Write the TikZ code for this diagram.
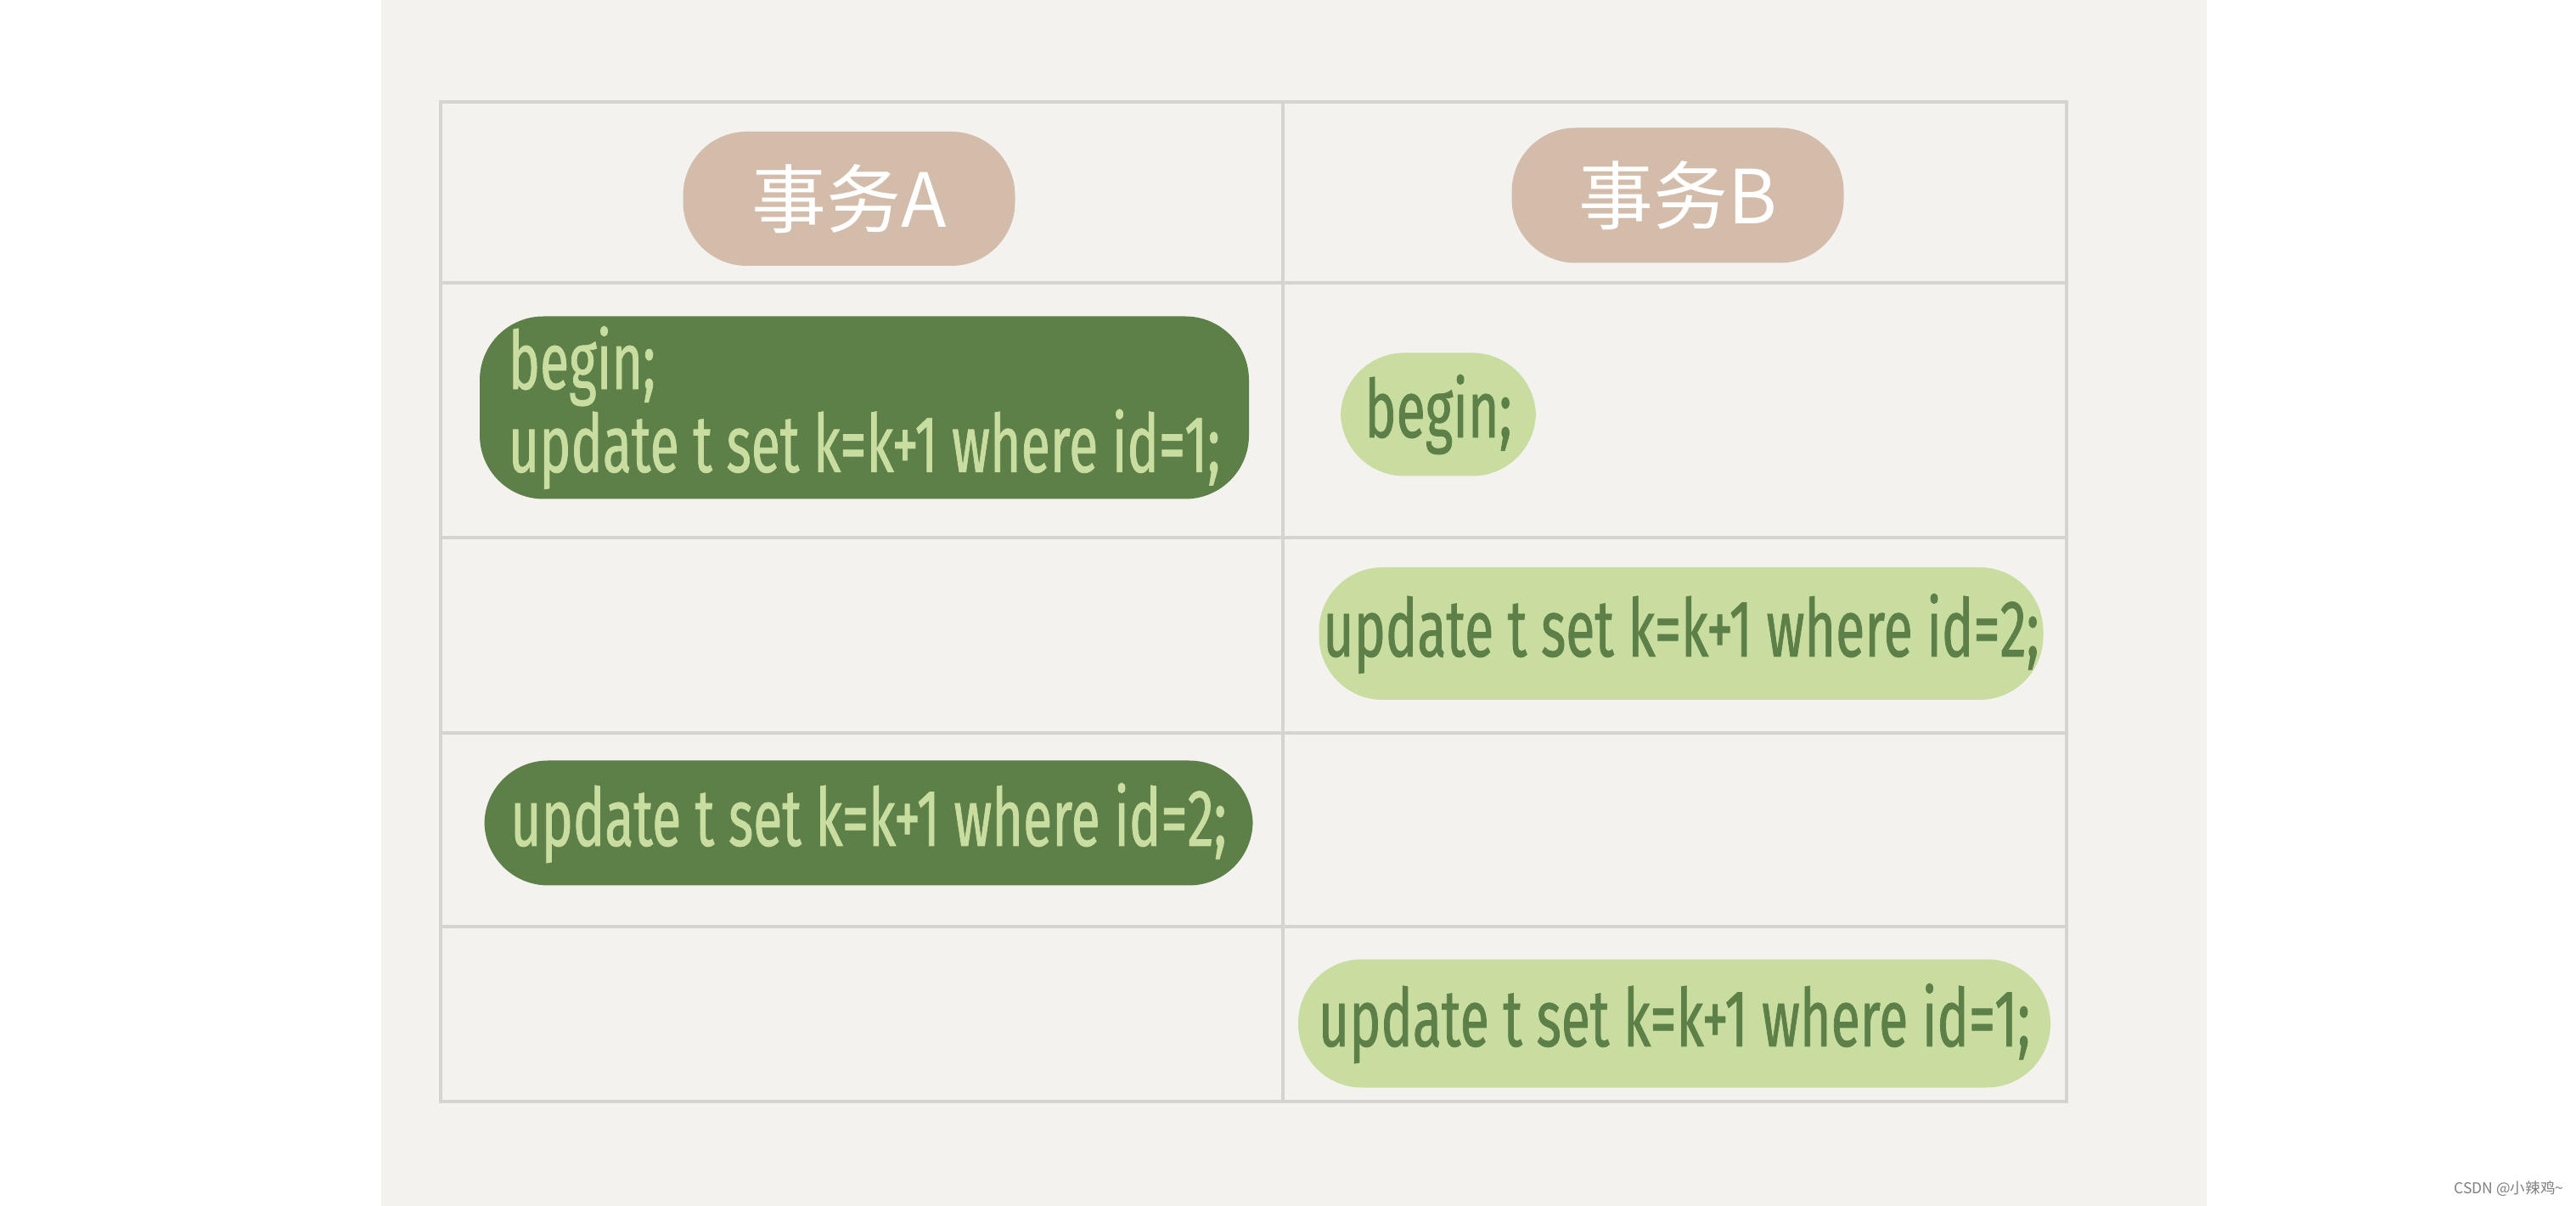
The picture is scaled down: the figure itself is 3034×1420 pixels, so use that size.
\documentclass[tikz,border=0pt]{standalone}
\usepackage{fontspec}
\usepackage{tikz}
\newfontfamily\handfont[FakeStretch=0.66,FakeBold=0.8]{Fira Sans}
\newfontfamily\cjkfont{Noto Sans CJK SC}
\definecolor{panelgray}{HTML}{F3F2EE}
\definecolor{gridgray}{HTML}{D4D4D1}
\definecolor{tan}{HTML}{D3BDAA}
\definecolor{darkgreen}{HTML}{5D8049}
\definecolor{palegreen}{HTML}{C9DDA0}

\begin{document}
\begin{tikzpicture}[x=0.1mm,y=-0.1mm,
blob/.style={rounded corners=7.5mm,inner sep=0pt},
hdr/.style={blob,fill=tan,text=white,
font=\cjkfont\fontsize{25}{25}\selectfont},
darkbox/.style={blob,fill=darkgreen,text=palegreen,align=left,
font=\handfont\fontsize{27}{23}\selectfont},
lightbox/.style={blob,fill=palegreen,text=darkgreen,
font=\handfont\fontsize{27}{23}\selectfont},
grid line/.style={draw=gridgray,line width=0.4mm}]
\useasboundingbox[fill=white] (0,0) rectangle (3034,1420);
\fill[panelgray] (449,0) rectangle (2599,1420);
% table
\draw[grid line] (519,120) rectangle (2434,1297);
\draw[grid line] (1511,120) -- (1511,1297);
\foreach \y in {333,633,863,1091}
  \draw[grid line] (519,\y) -- (2434,\y);
% headers
\node[hdr,minimum width=39.1mm,minimum height=15.8mm] (tA) at (1000,234) {事务A};
\node[hdr,minimum width=39.1mm,minimum height=15.9mm] (tB) at (1976,230) {事务B};
% statements
\node[darkbox,minimum width=90.6mm,minimum height=21.5mm] (a1) at (1018,480)
  {begin;\\update t set k=k+1 where id=1;};
\node[lightbox,minimum width=23mm,minimum height=14.5mm] (b1) at (1694,488) {begin;};
\node[lightbox,minimum width=85.3mm,minimum height=15.6mm] (b2) at (1980,746)
  {update t set k=k+1 where id=2;};
\node[darkbox,minimum width=90.5mm,minimum height=14.7mm] (a3) at (1023,969)
  {update t set k=k+1 where id=2;};
\node[lightbox,minimum width=88.6mm,minimum height=15.1mm] (b4) at (1972,1205)
  {update t set k=k+1 where id=1;};
% watermark
\node[anchor=east,inner sep=0pt,text=gray,font=\cjkfont\fontsize{5}{5}\selectfont]
  (wm) at (3020,1400) {CSDN @小辣鸡\textasciitilde};
\end{tikzpicture}
\end{document}
